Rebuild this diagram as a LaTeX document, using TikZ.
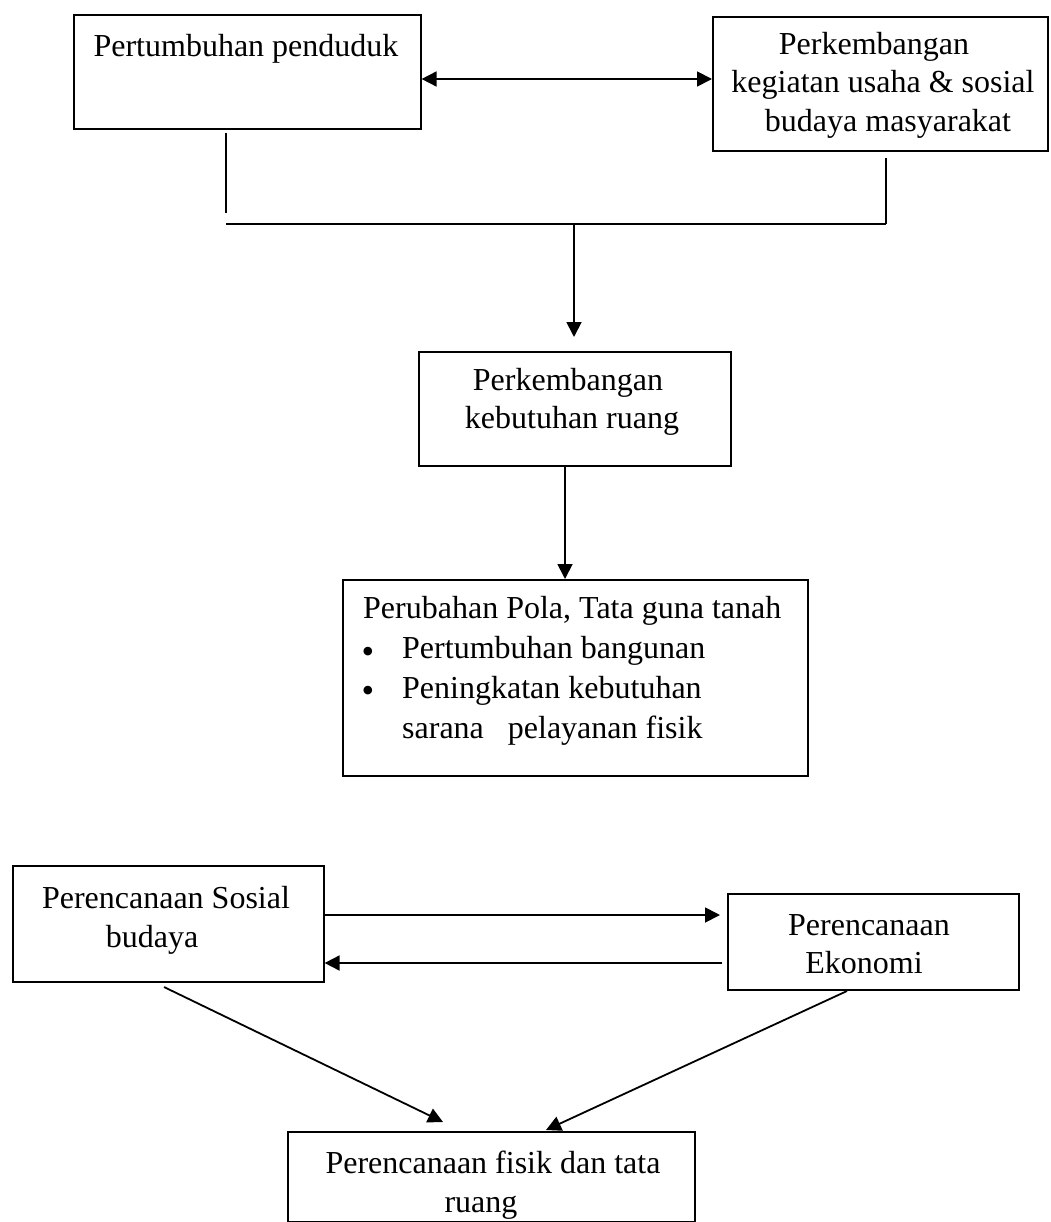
\documentclass[tikz,border=0pt]{standalone}
\usepackage{fontspec}
\setmainfont{Liberation Serif}
\usetikzlibrary{arrows.meta,calc}
\begin{document}
\begin{tikzpicture}[x=1pt,y=-1pt,
  boxframe/.style={draw, line width=1.6pt, inner sep=0pt, anchor=north west},
  lbl/.style={font=\fontsize{32}{39}\selectfont, inner sep=0pt},
  dot/.style={font=\fontsize{36}{36}\selectfont, inner sep=0pt, anchor=base},
  conn/.style={line width=1.8pt},
  tip/.tip={Triangle[length=15pt,width=15pt]},
  arr/.style={conn, -tip},
  dbl/.style={conn, tip-tip},
]
\useasboundingbox[fill=white] (0,0) rectangle (1050,1222);

% ---- upper chain ----
\node[boxframe, minimum width=347pt, minimum height=114pt] (b1) at (73,14) {};
\node[lbl, anchor=base] (t1) at (246,57) {Pertumbuhan penduduk};

\node[boxframe, minimum width=335pt, minimum height=134pt] (b2) at (712,16) {};
\node[lbl, anchor=base] (t2a) at (874,55)  {Perkembangan};
\node[lbl, anchor=base] (t2b) at (883,93)  {kegiatan usaha \& sosial};
\node[lbl, anchor=base] (t2c) at (888,132) {budaya masyarakat};

\coordinate (da) at (0,79);
\draw[dbl] (b1.east |- da) -- (b2.west |- da);

\coordinate (v1a) at (226,133);
\coordinate (v1b) at (226,213);
\coordinate (v2a) at (886,158);
\coordinate (v2b) at (886,224);
\coordinate (hl)  at (226,224);
\coordinate (hm)  at (574,224);
\draw[conn] (v1a) -- (v1b);
\draw[conn] (v2a) -- (v2b);
\draw[conn] (hl) -- (v2b);

\node[boxframe, minimum width=312pt, minimum height=114pt] (b3) at (418,351) {};
\node[lbl, anchor=base] (t3a) at (568,390) {Perkembangan};
\node[lbl, anchor=base] (t3b) at (572,428) {kebutuhan ruang};
\coordinate (a3) at (574,337);
\draw[arr] (hm) -- (a3);

\node[boxframe, minimum width=465pt, minimum height=196pt] (b4) at (342,579) {};
\node[lbl, anchor=base west] (t4a) at (363,618) {Perubahan Pola, Tata guna tanah};
\node[dot] (p1) at (368,663) {•};
\node[lbl, anchor=base west] (t4b) at (402,658) {Pertumbuhan bangunan};
\node[dot] (p2) at (368,702) {•};
\node[lbl, anchor=base west] (t4c) at (402,698) {Peningkatan kebutuhan};
\node[lbl, anchor=base west] (t4d) at (402,738) {sarana\ \ \ pelayanan fisik};
\draw[arr] (b3.south -| 565,0) -- (b4.north -| 565,0);

% ---- planning triangle ----
\node[boxframe, minimum width=311pt, minimum height=116pt] (b5) at (12,865) {};
\node[lbl, anchor=base] (t5a) at (166,908) {Perencanaan Sosial};
\node[lbl, anchor=base] (t5b) at (152,947) {budaya};

\node[boxframe, minimum width=291pt, minimum height=96pt] (b6) at (727,893) {};
\node[lbl, anchor=base] (t6a) at (869,935) {Perencanaan};
\node[lbl, anchor=base] (t6b) at (864,973) {Ekonomi};

\coordinate (r1) at (0,915);
\coordinate (r2) at (0,963);
\draw[arr] (b5.east |- r1) -- ($(b6.west |- r1)+(-7,0)$);
\draw[arr] ($(b6.west |- r2)+(-5,0)$) -- (b5.east |- r2);

\node[boxframe, minimum width=407pt, minimum height=90pt] (b7) at (287,1131) {};
\node[lbl, anchor=base] (t7a) at (493,1173) {Perencanaan fisik dan tata};
\node[lbl, anchor=base] (t7b) at (481,1212) {ruang};

\coordinate (d1) at (164,987);
\coordinate (d1e) at (443,1122);
\coordinate (d2) at (847,991);
\coordinate (d2e) at (546,1130);
\draw[arr] (d1) -- (d1e);
\draw[arr] (d2) -- (d2e);
\end{tikzpicture}
\end{document}
